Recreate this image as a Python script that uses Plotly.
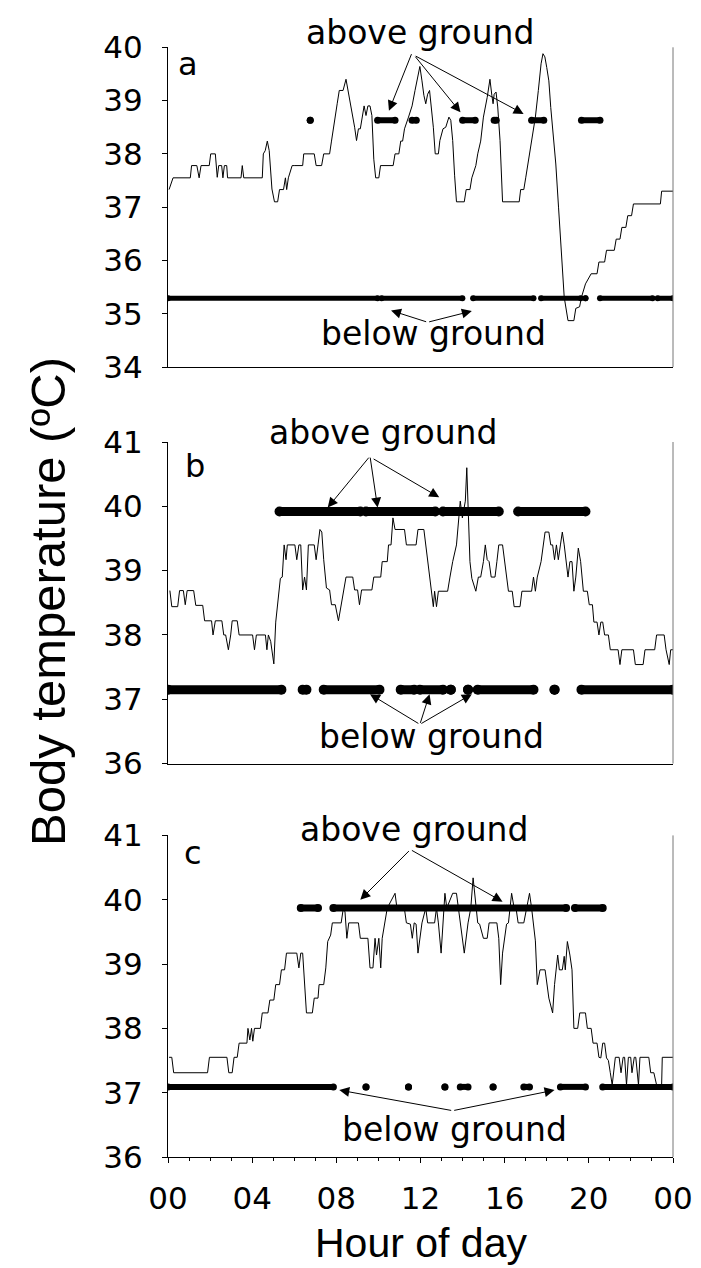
import plotly.graph_objects as go
from plotly.subplots import make_subplots

# ---------------- data: panel a ----------------
hours_a = [0.05,0.24,1.06,1.12,1.37,1.48,1.57,1.96,2.03,2.25,2.34,2.41,2.55,2.61,2.68,2.79,2.83,3.47,3.53,3.6,4.48,4.53,4.62,4.72,4.81,4.94,5.06,5.21,5.3,5.49,5.58,5.64,5.72,5.9,6.03,6.4,6.45,6.95,7.04,7.3,7.4,7.68,7.77,7.86,8.04,8.14,8.32,8.46,8.59,8.72,8.87,8.96,9.05,9.14,9.23,9.32,9.41,9.5,9.6,9.69,9.78,9.87,10.02,10.1,10.7,10.79,10.97,11.06,11.15,11.24,11.43,11.6,11.74,11.88,11.97,12.07,12.16,12.25,12.34,12.43,12.52,12.61,12.7,12.85,12.92,13.07,13.2,13.35,13.44,13.53,13.62,13.71,14.08,14.17,14.35,14.44,14.63,14.72,14.86,14.99,15.17,15.3,15.39,15.45,15.5,15.59,15.67,15.78,15.9,16.69,16.76,16.91,17.0,17.09,17.18,17.28,17.46,17.6,17.73,17.82,17.91,18.0,18.1,18.19,18.34,18.43,18.56,18.7,18.83,19.01,19.29,19.38,19.56,19.65,19.84,20.11,20.39,20.48,20.75,20.84,21.21,21.3,21.48,21.57,21.76,21.85,22.03,22.12,23.4,23.46,24.0]
temp_a = [37.33,37.55,37.55,37.78,37.78,37.55,37.78,37.78,38.0,38.0,37.56,37.78,37.78,37.55,37.78,37.78,37.55,37.55,37.78,37.55,37.55,38.0,38.06,38.24,38.06,37.34,37.1,37.1,37.33,37.33,37.55,37.33,37.55,37.78,37.78,37.78,38.0,38.0,37.78,37.78,38.0,38.0,38.24,38.5,38.94,39.19,39.19,39.4,39.12,38.9,38.5,38.25,38.47,38.47,38.69,38.9,38.72,38.9,38.9,38.72,37.9,37.55,37.55,37.78,37.78,38.0,38.0,38.24,38.24,38.47,38.69,38.9,39.19,39.5,39.64,39.37,39.1,38.94,39.12,39.19,38.87,38.5,38.0,38.0,38.25,38.47,38.5,38.69,38.63,38.25,37.6,37.1,37.1,37.33,37.33,37.55,37.78,38.0,38.24,38.69,39.06,39.4,39.1,38.94,39.12,39.16,38.88,38.25,37.1,37.1,37.33,37.33,37.55,37.78,38.0,38.25,38.69,39.19,39.69,39.88,39.82,39.62,39.37,38.87,38.25,37.81,37.0,36.06,35.31,34.87,34.87,35.1,35.13,35.31,35.56,35.75,35.75,35.97,35.97,36.19,36.19,36.4,36.4,36.62,36.62,36.84,36.84,37.06,37.06,37.3,37.3]
above_a_start = [6.76, 9.96, 11.6, 14.0, 15.5, 17.28, 19.65]
above_a_end = [6.76, 10.79, 11.8, 14.6, 15.6, 17.86, 20.53]
above_a_level = 38.63
below_a_start = [0.0, 10.15, 14.5, 17.73, 19.84, 20.53, 23.27]
below_a_end = [9.96, 13.99, 17.37, 19.62, 19.84, 23.03, 24.0]
below_a_level = 35.29

# ---------------- data: panel b ----------------
hours_b = [0.09,0.18,0.46,0.55,0.73,0.82,0.91,1.22,1.32,1.65,1.74,2.07,2.14,2.25,2.56,2.65,2.74,2.87,2.98,3.05,3.29,3.38,4.02,4.11,4.2,4.63,4.7,4.77,4.88,5.03,5.12,5.21,5.34,5.43,5.52,5.61,5.67,6.03,6.12,6.22,6.31,6.4,6.49,6.58,6.67,6.95,7.04,7.13,7.22,7.31,7.4,7.53,7.68,7.77,7.95,8.1,8.23,8.35,8.46,8.78,8.87,9.01,9.1,9.2,9.69,9.78,10.11,10.18,10.42,10.48,10.6,10.69,10.79,11.24,11.33,11.79,11.88,12.16,12.25,12.43,12.52,12.61,12.67,12.76,12.85,13.29,13.4,13.53,13.71,13.8,13.89,13.99,14.08,14.13,14.2,14.26,14.35,14.44,14.63,14.75,14.86,14.99,15.08,15.17,15.26,15.36,15.54,15.63,15.72,15.9,16.0,16.18,16.36,16.45,16.73,16.82,17.28,17.37,17.46,17.55,17.73,17.82,17.92,18.1,18.19,18.28,18.37,18.46,18.55,18.65,18.74,18.83,18.92,19.01,19.1,19.2,19.29,19.38,19.5,19.61,19.74,19.93,20.02,20.17,20.24,20.39,20.48,20.57,20.66,20.75,20.93,21.02,21.39,21.48,21.57,22.12,22.21,22.58,22.67,23.13,23.22,23.58,23.67,23.82,23.89,24.0]
temp_b = [38.69,38.44,38.44,38.69,38.69,38.47,38.69,38.69,38.46,38.46,38.22,38.22,38.0,38.22,38.22,38.0,38.0,37.77,38.0,38.22,38.22,38.0,38.0,37.77,38.0,38.0,37.77,38.0,37.9,37.55,38.2,38.52,38.88,38.9,39.4,39.17,39.4,39.4,39.17,39.4,39.4,38.7,38.9,38.7,39.4,39.4,39.17,39.4,39.64,39.6,39.17,38.73,38.7,38.47,38.47,38.22,38.47,38.7,38.9,38.9,38.7,38.7,38.47,38.7,38.7,38.9,38.9,39.14,39.14,39.4,39.4,39.82,39.64,39.64,39.4,39.4,39.64,39.64,39.4,38.94,38.68,38.44,38.68,38.44,38.68,38.68,38.9,39.14,39.4,39.82,40.08,39.82,39.98,40.08,40.6,39.97,39.14,38.88,38.68,38.9,38.9,39.14,39.4,39.17,39.14,38.9,38.9,39.14,39.4,39.4,39.14,38.68,38.68,38.44,38.44,38.68,38.68,38.9,38.68,38.9,39.14,39.4,39.6,39.6,39.4,39.4,39.17,39.4,39.17,39.4,39.6,39.4,39.14,38.9,39.14,39.14,38.68,38.9,39.35,39.14,38.68,38.68,38.47,38.47,38.2,38.2,38.0,38.2,38.2,38.0,38.0,37.77,37.77,37.54,37.77,37.77,37.54,37.54,37.77,37.77,38.0,38.0,37.77,37.54,37.77,37.77]
above_b_start = [5.3, 9.41, 13.07, 16.64]
above_b_end = [9.14, 12.7, 15.72, 19.84]
above_b_level = 39.92
below_b_start = [0.0, 6.4, 7.4, 11.06, 11.97, 13.44, 14.26, 14.72, 18.37, 19.65]
below_b_end = [5.39, 6.58, 10.05, 11.7, 13.07, 13.44, 14.26, 17.37, 18.37, 24.0]
below_b_level = 37.15

# ---------------- data: panel c ----------------
hours_c = [0.05,0.18,0.27,1.88,1.97,2.8,2.89,3.05,3.14,3.29,3.38,3.75,3.8,3.89,3.97,4.03,4.11,4.39,4.48,4.75,4.84,5.03,5.12,5.3,5.39,5.54,5.63,6.12,6.22,6.31,6.4,6.49,6.58,6.86,6.95,7.13,7.18,7.4,7.5,7.59,7.73,7.81,8.23,8.32,8.41,8.5,8.59,9.05,9.14,9.5,9.6,9.74,9.84,9.91,10.02,10.11,10.18,10.42,10.79,10.88,11.24,11.33,11.52,11.61,11.7,11.79,11.88,12.07,12.25,12.34,12.67,12.76,12.85,12.98,13.16,13.25,13.53,13.71,13.8,13.95,14.08,14.26,14.39,14.5,14.63,14.72,14.81,14.99,15.17,15.26,15.63,15.72,15.81,15.9,16.09,16.18,16.33,16.45,16.54,16.64,16.91,17.06,17.18,17.28,17.37,17.46,17.55,17.6,17.68,17.92,18.0,18.1,18.28,18.37,18.52,18.6,18.74,18.83,18.88,18.98,19.1,19.2,19.29,19.47,19.57,19.84,19.93,20.11,20.2,20.39,20.48,20.57,20.66,20.75,20.84,20.93,21.02,21.11,21.26,21.44,21.53,21.63,21.7,21.79,21.88,21.99,22.05,22.16,22.23,22.36,22.43,22.85,22.94,23.09,23.22,23.46,23.49,24.0]
temp_c = [37.55,37.55,37.31,37.31,37.55,37.55,37.31,37.31,37.55,37.55,37.77,37.77,38.0,37.82,38.0,37.8,38.0,38.0,38.24,38.24,38.44,38.44,38.68,38.68,38.91,38.91,39.17,39.17,38.94,39.17,39.17,38.73,38.24,38.24,38.47,38.47,38.68,38.68,38.94,39.35,39.45,39.64,39.64,39.84,39.82,39.4,39.64,39.64,39.4,39.4,38.94,38.94,39.4,39.14,39.4,38.94,39.4,39.87,40.1,39.87,39.85,39.64,39.62,39.4,39.64,39.62,39.17,39.64,39.87,39.64,39.64,39.87,39.64,39.17,40.1,39.87,40.1,40.1,39.87,39.56,39.17,39.64,39.87,40.34,39.87,39.64,39.62,39.4,39.4,39.64,39.64,39.4,38.68,39.17,39.62,39.64,40.1,39.87,39.87,39.64,39.64,39.87,40.1,39.87,39.62,39.36,38.68,38.78,38.91,38.91,38.68,38.47,38.24,38.68,39.14,38.91,38.91,39.12,38.91,39.35,39.14,38.91,38.0,38.0,38.24,38.24,38.0,38.0,37.77,37.77,37.55,37.54,37.77,37.77,37.54,37.5,37.31,37.12,37.55,37.55,37.31,37.55,37.55,37.12,37.55,37.55,37.31,37.55,37.55,37.12,37.55,37.55,37.31,37.31,37.12,37.12,37.55,37.55]
above_c_start = [6.31, 7.86, 19.34]
above_c_end = [7.13, 18.92, 20.66]
above_c_level = 39.87
below_c_start = [0.0, 9.41, 11.43, 13.16, 13.89, 15.45, 16.91, 18.65, 20.66]
below_c_end = [7.86, 9.41, 11.43, 13.16, 14.26, 15.45, 17.18, 19.84, 24.0]
below_c_level = 37.09

hour_ticks = [0, 4, 8, 12, 16, 20, 24]
hour_labels = ["00", "04", "08", "12", "16", "20", "00"]

FONT = "DejaVu Sans, Liberation Sans, sans-serif"
TITLE_FONT = "Liberation Sans, Arial, sans-serif"

fig = make_subplots(rows=3, cols=1, shared_xaxes=False, vertical_spacing=0.0)

def interval_xy(starts, ends, level):
    xs, ys = [], []
    for s, e in zip(starts, ends):
        xs += [s, e, None]
        ys += [level, level, None]
    return xs, ys

panels = [
    (1, hours_a, temp_a, above_a_start, above_a_end, above_a_level, 7, below_a_start, below_a_end, below_a_level, 6),
    (2, hours_b, temp_b, above_b_start, above_b_end, above_b_level, 10, below_b_start, below_b_end, below_b_level, 10),
    (3, hours_c, temp_c, above_c_start, above_c_end, above_c_level, 8, below_c_start, below_c_end, below_c_level, 7),
]
for row, hx, ty, a_s, a_e, a_l, a_sz, b_s, b_e, b_l, b_sz in panels:
    fig.add_trace(go.Scatter(x=hx, y=ty, mode="lines", line=dict(color="black", width=1),
                             showlegend=False, hoverinfo="skip"), row=row, col=1)
    for st, en, lv, sz in [(a_s, a_e, a_l, a_sz), (b_s, b_e, b_l, b_sz)]:
        xs, ys = interval_xy(st, en, lv)
        fig.add_trace(go.Scatter(x=xs, y=ys, mode="lines+markers",
                                 line=dict(color="black", width=sz - 1),
                                 marker=dict(color="black", size=sz),
                                 showlegend=False, hoverinfo="skip", connectgaps=False),
                      row=row, col=1)

# axes
H = 1268
top, bottom_px = 39.0, 1149.0
area = bottom_px - top
def dom(y_top, y_bot):
    return [(bottom_px - y_bot) / area, (bottom_px - y_top) / area]

domains = [dom(39.3, 359.0), dom(434.0, 755.6), dom(827.4, 1149.0)]
ranges = [[34, 40], [36, 41], [36, 41]]
for i in range(3):
    yname = "yaxis" if i == 0 else f"yaxis{i+1}"
    xname = "xaxis" if i == 0 else f"xaxis{i+1}"
    fig.layout[yname].update(domain=domains[i], range=ranges[i], dtick=1, tick0=34,
                             showline=True, linecolor="black", linewidth=1,
                             ticks="outside", ticklen=5, tickcolor="black",
                             showgrid=False, zeroline=False,
                             tickfont=dict(family=FONT, size=31, color="black"),
                             ticklabelstandoff=13)
    common = dict(range=[0, 24], showline=True, linecolor="black", linewidth=1,
                  showgrid=False, zeroline=False)
    if i < 2:
        fig.layout[xname].update(**common, showticklabels=False, ticks="")
    else:
        fig.layout[xname].update(**common, tickvals=hour_ticks, ticktext=hour_labels,
                                 ticks="outside", ticklen=5, tickcolor="black",
                                 minor=dict(dtick=1, ticks="outside", ticklen=3, tickcolor="black"),
                                 tickfont=dict(family=FONT, size=31, color="black"),
                                 ticklabelstandoff=9)

# right frame line for each panel
for i in range(3):
    xr = "x" if i == 0 else f"x{i+1}"
    yr = "y" if i == 0 else f"y{i+1}"
    fig.add_shape(type="line", xref=f"{xr} domain", yref=f"{yr} domain", x0=1, x1=1, y0=0, y1=1,
                  line=dict(color="#777777", width=1))

ann = []
def text(xr, yr, x, y, s, size=33):
    ann.append(dict(xref=xr, yref=yr, x=x, y=y, text=s, showarrow=False,
                    xanchor="center", yanchor="middle",
                    font=dict(family=FONT, size=size, color="black")))
def arrow(xr, yr, x, y, ax, ay):
    ann.append(dict(xref=xr, yref=yr, axref=xr, ayref=yr, x=x, y=y, ax=ax, ay=ay, text="",
                    showarrow=True, arrowhead=2, arrowsize=2, arrowwidth=1, arrowcolor="black"))

# panel a  (text above the plot uses the domain reference, 1.0 = top of panel)
text("x", "y", 0.95, 39.69, "a", 32)
text("x", "y domain", 11.97, 1.047, "above ground")
arrow("x", "y", 10.5, 38.81, 11.6, 39.9)
arrow("x", "y", 13.9, 38.78, 11.7, 39.85)
arrow("x", "y", 16.9, 38.75, 11.7, 39.85)
text("x", "y", 12.6, 34.63, "below ground")
arrow("x", "y", 10.6, 35.06, 12.34, 34.84)
arrow("x", "y", 14.44, 35.05, 12.34, 34.84)
# panel b
text("x2", "y2", 1.28, 40.62, "b", 32)
text("x2", "y2 domain", 10.24, 1.028, "above ground")
arrow("x2", "y2", 7.59, 39.98, 9.6, 40.78)
arrow("x2", "y2", 9.96, 39.98, 9.6, 40.78)
arrow("x2", "y2", 12.89, 40.14, 9.7, 40.75)
text("x2", "y2", 12.52, 36.42, "below ground")
arrow("x2", "y2", 9.6, 37.08, 11.97, 36.61)
arrow("x2", "y2", 12.43, 37.08, 11.97, 36.61)
arrow("x2", "y2", 14.44, 37.08, 11.97, 36.61)
# panel c
text("x3", "y3", 1.19, 40.73, "c", 32)
text("x3", "y3 domain", 11.7, 1.018, "above ground")
arrow("x3", "y3", 9.14, 40.0, 11.52, 40.78)
arrow("x3", "y3", 15.9, 39.97, 11.52, 40.78)
text("x3", "y3", 13.62, 36.42, "below ground")
arrow("x3", "y3", 8.14, 37.04, 13.53, 36.72)
arrow("x3", "y3", 18.37, 37.04, 13.53, 36.72)

# axis titles
ann.append(dict(xref="paper", yref="paper", x=(40 - 160) / 505, y=(bottom_px - 594) / area,
                xanchor="center", yanchor="middle",
                text="Body temperature (ºC)", textangle=-90, showarrow=False,
                font=dict(family=TITLE_FONT, size=49, color="black")))
ann.append(dict(xref="paper", yref="paper", x=(413 - 160) / 505, y=(bottom_px - 1235) / area,
                xanchor="center", yanchor="middle",
                text="Hour of day", showarrow=False,
                font=dict(family=TITLE_FONT, size=41, color="black")))

fig.update_layout(width=701, height=H, margin=dict(l=160, r=36, t=39, b=119),
                  plot_bgcolor="white", paper_bgcolor="white", annotations=ann,
                  showlegend=False)

fig.write_html("out.html")
